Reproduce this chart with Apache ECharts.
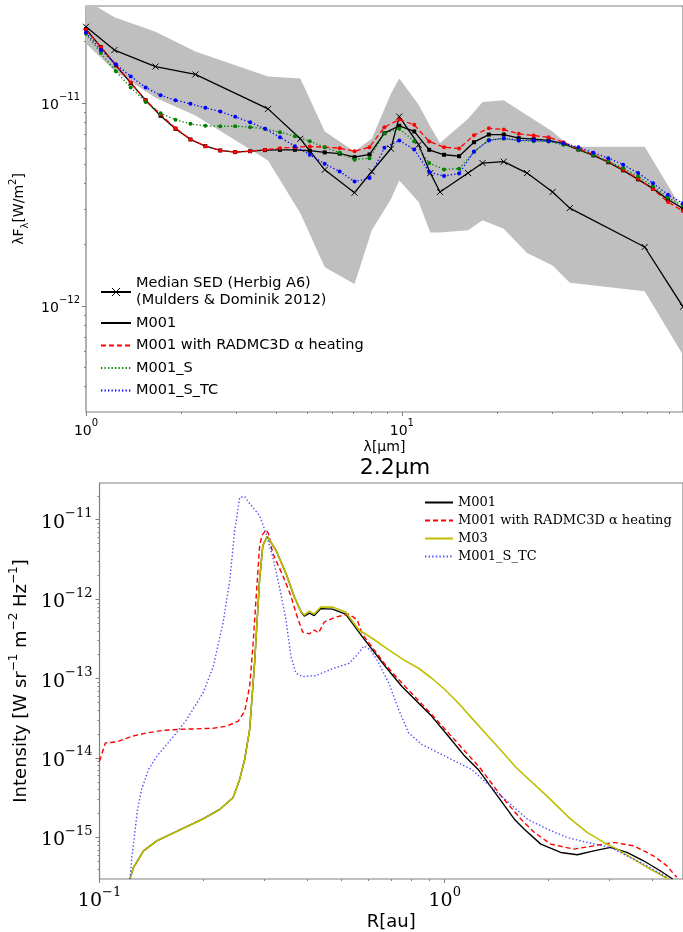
<!DOCTYPE html>
<html>
<head>
<meta charset="utf-8">
<script src="https://cdn.jsdelivr.net/npm/echarts@6/dist/echarts.min.js"></script>
<style>
  html, body { margin: 0; padding: 0; background: #fff; }
  #chart { width: 683px; height: 932px; }
</style>
</head>
<body>
<div id="chart"></div>
<script>
// ---- top panel: SED, wavelength grid of the models (micron)
const lamGrid = [1.000, 1.115, 1.243, 1.386, 1.545, 1.722, 1.920, 2.141, 2.387, 2.661, 2.967, 3.308, 3.688, 4.112,
  4.584, 5.111, 5.698, 6.353, 7.083, 7.897, 8.804, 9.816, 10.94, 12.20, 13.60, 15.17, 16.91, 18.85, 21.02, 23.43,
  26.13, 29.13, 32.47, 36.21, 40.37, 45.00, 50.18, 55.94, 62.37, 69.54, 77.53]
const sedM001 = [2.31e-11, 1.88e-11, 1.53e-11, 1.25e-11, 1.03e-11, 8.63e-12, 7.45e-12, 6.60e-12, 6.12e-12, 5.83e-12,
  5.72e-12, 5.78e-12, 5.85e-12, 5.87e-12, 5.87e-12, 5.81e-12, 5.70e-12, 5.62e-12, 5.40e-12, 5.57e-12, 7.09e-12,
  7.71e-12, 7.23e-12, 5.87e-12, 5.55e-12, 5.46e-12, 6.40e-12, 6.98e-12, 6.98e-12, 6.70e-12, 6.62e-12, 6.53e-12,
  6.29e-12, 5.89e-12, 5.51e-12, 5.10e-12, 4.65e-12, 4.20e-12, 3.78e-12, 3.34e-12, 3.02e-12]
const sedAlpha = [2.29e-11, 1.88e-11, 1.54e-11, 1.26e-11, 1.03e-11, 8.76e-12, 7.50e-12, 6.62e-12, 6.12e-12, 5.83e-12,
  5.72e-12, 5.78e-12, 5.87e-12, 5.98e-12, 6.05e-12, 6.10e-12, 6.05e-12, 5.98e-12, 5.78e-12, 6.05e-12, 7.59e-12,
  8.28e-12, 7.79e-12, 6.45e-12, 6.05e-12, 5.96e-12, 6.93e-12, 7.50e-12, 7.39e-12, 7.04e-12, 6.90e-12, 6.77e-12,
  6.40e-12, 5.94e-12, 5.57e-12, 5.14e-12, 4.68e-12, 4.23e-12, 3.75e-12, 3.25e-12, 2.93e-12]
const sedS = [2.19e-11, 1.76e-11, 1.43e-11, 1.19e-11, 1.01e-11, 8.89e-12, 8.25e-12, 7.88e-12, 7.71e-12, 7.67e-12,
  7.67e-12, 7.59e-12, 7.45e-12, 7.17e-12, 6.85e-12, 6.47e-12, 6.05e-12, 5.68e-12, 5.25e-12, 5.34e-12, 7.09e-12,
  7.45e-12, 6.47e-12, 5.05e-12, 4.70e-12, 4.74e-12, 5.72e-12, 6.58e-12, 6.65e-12, 6.53e-12, 6.47e-12, 6.45e-12,
  6.22e-12, 5.89e-12, 5.53e-12, 5.14e-12, 4.77e-12, 4.34e-12, 3.88e-12, 3.41e-12, 3.13e-12]
const sedSTC = [2.22e-11, 1.82e-11, 1.55e-11, 1.35e-11, 1.19e-11, 1.09e-11, 1.03e-11, 9.89e-12, 9.45e-12, 9.06e-12,
  8.53e-12, 8.03e-12, 7.45e-12, 6.77e-12, 6.12e-12, 5.55e-12, 5.01e-12, 4.59e-12, 4.10e-12, 4.26e-12, 6.01e-12,
  6.53e-12, 5.89e-12, 4.56e-12, 4.36e-12, 4.49e-12, 5.76e-12, 6.53e-12, 6.70e-12, 6.53e-12, 6.53e-12, 6.47e-12,
  6.33e-12, 6.05e-12, 5.68e-12, 5.34e-12, 4.96e-12, 4.51e-12, 4.02e-12, 3.53e-12, 3.20e-12]

// median Herbig SED and its spread
const lamMedian = [1.0, 1.23, 1.66, 2.22, 3.77, 4.77, 5.70, 7.08, 8.03, 9.23, 9.81, 11.3, 12.3, 13.2, 16.2, 18.0,
  21.0, 24.9, 30.0, 34.0, 58.7, 77.6]
const sedMedian = [2.37e-11, 1.82e-11, 1.51e-11, 1.38e-11, 9.34e-12, 6.65e-12, 4.68e-12, 3.61e-12, 4.59e-12,
  5.94e-12, 8.56e-12, 6.22e-12, 4.51e-12, 3.64e-12, 4.51e-12, 5.05e-12, 5.13e-12, 4.51e-12, 3.64e-12, 3.03e-12,
  1.95e-12, 9.89e-13]
const bandHigh = [3.2e-11, 2.64e-11, 2.24e-11, 1.79e-11, 1.35e-11, 1.32e-11, 7.23e-12, 5.76e-12, 6.65e-12, 1.11e-11,
  1.32e-11, 9.78e-12, 7.65e-12, 6.34e-12, 8.34e-12, 1.01e-11, 1.03e-11, 8.69e-12, 7.23e-12, 6.08e-12, 6.08e-12,
  2.95e-12]
const bandLow = [1.96e-11, 1.44e-11, 1.06e-11, 8.66e-12, 5.20e-12, 2.86e-12, 1.55e-12, 1.28e-12, 2.36e-12, 3.35e-12,
  4.15e-12, 3.25e-12, 2.30e-12, 2.30e-12, 2.36e-12, 2.64e-12, 2.40e-12, 1.82e-12, 1.58e-12, 1.30e-12, 1.18e-12,
  5.72e-13]

// ---- bottom panel: 2.2 micron intensity profiles, R in au
const rM001 = [0.1225, 0.1255, 0.1341, 0.1465, 0.1673, 0.1988, 0.2231, 0.2436, 0.2547, 0.2633, 0.2722, 0.2813,
  0.2908, 0.2972, 0.3062, 0.3245, 0.3469, 0.3667, 0.3833, 0.3920, 0.4052, 0.4189, 0.4375, 0.4728, 0.5164, 0.5768,
  0.6731, 0.7517, 0.8213, 0.9174, 1.0247, 1.144, 1.250, 1.411, 1.591, 1.700, 1.898, 2.168, 2.421, 2.704, 3.020,
  3.372, 3.766, 4.207, 4.573]
const iM001 = [3.0e-16, 4.21e-16, 6.79e-16, 9.07e-16, 1.19e-15, 1.70e-15, 2.26e-15, 3.17e-15, 5.38e-15, 9.59e-15,
  2.28e-14, 1.56e-13, 1.73e-12, 4.76e-12, 6.17e-12, 4.12e-12, 2.10e-12, 1.07e-12, 6.94e-13, 6.13e-13, 6.69e-13,
  6.22e-13, 7.61e-13, 7.50e-13, 6.49e-13, 3.37e-13, 1.42e-13, 7.96e-14, 5.42e-14, 3.35e-14, 1.88e-14, 1.05e-14,
  7.18e-15, 3.49e-15, 1.70e-15, 1.27e-15, 8.24e-16, 6.48e-16, 6.05e-16, 6.79e-16, 7.49e-16, 6.48e-16, 5.09e-16,
  3.81e-16, 3.0e-16]
const rAlpha = [0.1, 0.1040, 0.1124, 0.1241, 0.1371, 0.1531, 0.1711, 0.1910, 0.2134, 0.2330, 0.2518, 0.2633, 0.2722,
  0.2782, 0.2843, 0.2908, 0.2952, 0.3038, 0.3087, 0.3175, 0.3394, 0.3579, 0.3724, 0.3876, 0.4052, 0.4189, 0.4310,
  0.4476, 0.4824, 0.5282, 0.5580, 0.5768, 0.6731, 0.7517, 0.9174, 1.0247, 1.144, 1.264, 1.459, 1.663, 1.816, 2.029,
  2.367, 2.704, 3.088, 3.525, 4.025, 4.395, 4.698]
const iAlpha = [9.14e-15, 1.55e-14, 1.60e-14, 1.88e-14, 2.07e-14, 2.23e-14, 2.30e-14, 2.33e-14, 2.37e-14, 2.51e-14,
  2.90e-14, 3.87e-14, 7.96e-14, 2.53e-13, 1.07e-12, 4.53e-12, 6.35e-12, 7.49e-12, 6.67e-12, 3.78e-12, 2.00e-12,
  1.12e-12, 6.31e-13, 3.86e-13, 3.65e-13, 4.09e-13, 3.75e-13, 5.15e-13, 5.95e-13, 6.49e-13, 5.46e-13, 3.65e-13,
  1.49e-13, 8.78e-14, 3.52e-14, 2.07e-14, 1.22e-14, 7.55e-15, 3.30e-15, 1.70e-15, 1.16e-15, 8.24e-16, 7.13e-16,
  7.85e-16, 8.66e-16, 7.85e-16, 5.88e-16, 4.41e-16, 3.15e-16]
const rM03 = [0.1225, 0.1255, 0.1341, 0.1465, 0.1673, 0.1988, 0.2231, 0.2436, 0.2547, 0.2633, 0.2722, 0.2813, 0.2908,
  0.2972, 0.3062, 0.3245, 0.3469, 0.3667, 0.3833, 0.3920, 0.4052, 0.4189, 0.4375, 0.4728, 0.5164, 0.5643, 0.6163,
  0.6886, 0.7606, 0.8400, 0.9174, 1.002, 1.095, 1.196, 1.336, 1.492, 1.612, 1.967, 2.316, 2.586, 2.889, 3.155,
  3.525, 3.937, 4.446]
const iM03 = [3.0e-16, 4.21e-16, 6.79e-16, 9.07e-16, 1.19e-15, 1.70e-15, 2.26e-15, 3.17e-15, 5.38e-15, 9.59e-15,
  2.28e-14, 1.56e-13, 1.73e-12, 4.76e-12, 6.17e-12, 4.12e-12, 2.10e-12, 1.07e-12, 6.94e-13, 6.31e-13, 7.08e-13,
  6.49e-13, 7.95e-13, 7.95e-13, 6.88e-13, 4.09e-13, 3.22e-13, 2.30e-13, 1.72e-13, 1.35e-13, 1.01e-13, 7.24e-14,
  4.93e-14, 3.20e-14, 1.88e-14, 1.11e-14, 7.55e-15, 3.39e-15, 1.70e-15, 1.16e-15, 8.66e-16, 7.13e-16, 5.34e-16,
  4.00e-16, 3.0e-16]
const rSTC = [0.1225, 0.1241, 0.1264, 0.1289, 0.1324, 0.1387, 0.1465, 0.1636, 0.1787, 0.1997, 0.2134, 0.2280, 0.2384,
  0.2464, 0.2547, 0.2633, 0.2722, 0.2908, 0.3038, 0.3175, 0.3320, 0.3469, 0.3586, 0.3707, 0.3876, 0.4233, 0.4728,
  0.5282, 0.5580, 0.5833, 0.6095, 0.6443, 0.6886, 0.7358, 0.7863, 0.8587, 0.9804, 1.119, 1.196, 1.440, 1.737, 1.984,
  2.265, 2.586, 3.020, 3.372, 3.849, 4.395]
const iSTC = [3.0e-16, 5.66e-16, 1.10e-15, 2.26e-15, 4.03e-15, 7.18e-15, 1.05e-14, 1.86e-14, 3.04e-14, 6.64e-14,
  1.41e-13, 5.01e-13, 1.73e-12, 7.34e-12, 1.90e-11, 1.96e-11, 1.60e-11, 1.13e-11, 6.67e-12, 3.40e-12, 1.43e-12,
  5.46e-13, 1.89e-13, 1.17e-13, 1.06e-13, 1.09e-13, 1.33e-13, 1.56e-13, 1.99e-13, 2.58e-13, 2.30e-13, 1.56e-13,
  8.78e-14, 4.06e-14, 2.07e-14, 1.48e-14, 1.11e-14, 8.30e-15, 7.18e-15, 3.49e-15, 1.70e-15, 1.27e-15, 1.00e-15,
  8.66e-16, 7.49e-16, 5.88e-16, 4.41e-16, 3.15e-16]

// tick values
const topXMajor = [1, 10]
const topXMinor = [2, 3, 4, 5, 6, 7, 8, 9, 20, 30, 40, 50, 60, 70]
const topYMajor = [1e-12, 1e-11]
const topYMinor = [4e-13, 5e-13, 6e-13, 7e-13, 8e-13, 9e-13, 2e-12, 3e-12, 4e-12, 5e-12, 6e-12, 7e-12, 8e-12, 9e-12, 2e-11]
const botXMajor = [0.1, 1]
const botXMinor = [0.2, 0.3, 0.4, 0.5, 0.6, 0.7, 0.8, 0.9, 2, 3, 4]
const botYMajor = [1e-15, 1e-14, 1e-13, 1e-12, 1e-11]
const botYMinor = [4e-16, 5e-16, 6e-16, 7e-16, 8e-16, 9e-16,
  2e-15, 3e-15, 4e-15, 5e-15, 6e-15, 7e-15, 8e-15, 9e-15,
  2e-14, 3e-14, 4e-14, 5e-14, 6e-14, 7e-14, 8e-14, 9e-14,
  2e-13, 3e-13, 4e-13, 5e-13, 6e-13, 7e-13, 8e-13, 9e-13,
  2e-12, 3e-12, 4e-12, 5e-12, 6e-12, 7e-12, 8e-12, 9e-12, 2e-11]

const SANS = 'DejaVu Sans'
const SERIF = 'DejaVu Serif'
const AXIS = '#808080'

const zip = (xs, ys) => xs.map((x, i) => [x, ys[i]])

function powLabel(v) {
  const e = Math.round(Math.log10(v))
  return '{b|10}{s|' + (e < 0 ? '\u2212' + (-e) : String(e)) + '}'
}

function powRich(font, size, supSize) {
  return {
    b: { fontFamily: font, fontSize: size, color: '#000', lineHeight: size + 6, verticalAlign: 'bottom' },
    s: { fontFamily: font, fontSize: supSize, color: '#000', lineHeight: supSize + 2, verticalAlign: 'top' }
  }
}

// a log axis with its major ticks/labels, plus an overlaid axis that only draws minor ticks
function logAxes(gridIndex, pos, min, max, major, minor, label, name) {
  const main = Object.assign({
    type: 'log', logBase: 10, gridIndex: gridIndex, position: pos, min: min, max: max,
    axisLine: { show: false }, splitLine: { show: false },
    axisTick: { show: true, customValues: major, length: 4, lineStyle: { color: AXIS, width: 1 } },
    axisLabel: { customValues: major, formatter: powLabel, margin: label.margin, rich: label.rich }
  }, name)
  const minorAxis = {
    type: 'log', logBase: 10, gridIndex: gridIndex, position: pos, min: min, max: max,
    axisLine: { show: false }, splitLine: { show: false }, axisLabel: { show: false },
    axisTick: { show: true, customValues: minor, length: 2, lineStyle: { color: AXIS, width: 1 } }
  }
  return [main, minorAxis]
}

const topLabel = { margin: 6, rich: powRich(SANS, 14, 10) }
const botLabel = { margin: 7, rich: powRich(SERIF, 19, 13) }

const topX = logAxes(0, 'bottom', 1, 77.6, topXMajor, topXMinor, topLabel, {
  name: 'λ[μm]', nameLocation: 'middle', nameGap: 28,
  nameTextStyle: { fontFamily: SANS, fontSize: 14, color: '#000' }
})
const topY = logAxes(0, 'left', 3e-13, 3e-11, topYMajor, topYMinor, topLabel, {
  name: '{n|λF}{sub|λ}{n|[W/m}{sup|2}{n|]}', nameLocation: 'middle', nameGap: 56,
  nameTextStyle: {
    rich: {
      n: { fontFamily: SANS, fontSize: 14, color: '#000', lineHeight: 22, verticalAlign: 'middle' },
      sub: { fontFamily: SANS, fontSize: 10, color: '#000', lineHeight: 10, verticalAlign: 'bottom' },
      sup: { fontFamily: SANS, fontSize: 10, color: '#000', lineHeight: 10, verticalAlign: 'top' }
    }
  }
})
const botX = logAxes(1, 'bottom', 0.1, 4.9, botXMajor, botXMinor, botLabel, {
  name: 'R[au]', nameLocation: 'middle', nameGap: 34,
  nameTextStyle: { fontFamily: SANS, fontSize: 18, color: '#000' }
})
const botY = logAxes(1, 'left', 3e-16, 2.9e-11, botYMajor, botYMinor, botLabel, {
  name: '{n|Intensity [W sr}{sup|\u22121}{n| m}{sup|\u22122}{n| Hz}{sup|\u22121}{n|]}',
  nameLocation: 'middle', nameGap: 64,
  nameTextStyle: {
    rich: {
      n: { fontFamily: SANS, fontSize: 18, color: '#000', lineHeight: 26, verticalAlign: 'middle' },
      sup: { fontFamily: SANS, fontSize: 12, color: '#000', lineHeight: 12, verticalAlign: 'top' }
    }
  }
})

const MEDIAN = 'Median SED (Herbig A6)\n(Mulders & Dominik 2012)'
const ALPHA = 'M001 with RADMC3D α heating'
const crossSymbol = 'path://M0,0L10,10M10,0L0,10'
const noMarker = { itemStyle: { opacity: 0 } }

const chart = echarts.init(document.getElementById('chart'))

const option = {
  animation: false,
  backgroundColor: '#fff',
  title: {
    text: '2.2μm', left: 390, top: 452, textAlign: 'center',
    textStyle: { fontFamily: SANS, fontSize: 22, fontWeight: 'normal', color: '#000' }
  },
  grid: [
    { left: 83, top: 6, width: 600, height: 406, show: true, borderColor: AXIS, borderWidth: 1.2 },
    { left: 96, top: 483, width: 587, height: 397, show: true, borderColor: AXIS, borderWidth: 1.2 }
  ],
  xAxis: [topX[0], topX[1], botX[0], botX[1]],
  yAxis: [topY[0], topY[1], botY[0], botY[1]],
  legend: [
    {
      orient: 'vertical', left: 95, top: 270, itemWidth: 30, itemHeight: 10, itemGap: 5.5,
      textStyle: { fontFamily: SANS, fontSize: 14.5, lineHeight: 17, color: '#000' },
      data: [
        { name: MEDIAN, itemStyle: { borderWidth: 1 } },
        Object.assign({ name: 'M001' }, noMarker),
        Object.assign({ name: ALPHA }, noMarker),
        Object.assign({ name: 'M001_S' }, noMarker),
        Object.assign({ name: 'M001_S_TC' }, noMarker)
      ]
    },
    {
      orient: 'vertical', left: 419, top: 491, itemWidth: 28, itemHeight: 10, itemGap: 5,
      textStyle: { fontFamily: SERIF, fontSize: 13, color: '#000' },
      formatter: name => name.replace('b:', ''),
      data: [
        Object.assign({ name: 'b:M001' }, noMarker),
        Object.assign({ name: 'b:' + ALPHA }, noMarker),
        Object.assign({ name: 'b:M03' }, noMarker),
        Object.assign({ name: 'b:M001_S_TC' }, noMarker)
      ]
    }
  ],
  series: [
    // grey spread of the median SED: one polygon through the upper and lower bounds
    {
      name: 'spread', type: 'custom', xAxisIndex: 0, yAxisIndex: 0, silent: true, clip: true, z: 1,
      data: lamMedian.map((x, i) => [x, bandLow[i], bandHigh[i]]),
      encode: { x: 0, y: [1, 2] },
      renderItem: function (params, api) {
        if (params.dataIndex !== 0) return null
        const upper = lamMedian.map((x, i) => api.coord([x, bandHigh[i]]))
        const lower = lamMedian.map((x, i) => api.coord([x, bandLow[i]])).reverse()
        const cs = params.coordSys
        return {
          type: 'polygon',
          shape: { points: upper.concat(lower) },
          style: { fill: '#bfbfbf' },
          clipPath: { type: 'rect', shape: { x: cs.x, y: cs.y, width: cs.width, height: cs.height } }
        }
      }
    },
    {
      name: MEDIAN, type: 'line', xAxisIndex: 0, yAxisIndex: 0, symbol: crossSymbol, symbolSize: 6,
      itemStyle: { color: 'rgba(0,0,0,0)', borderColor: '#000', borderWidth: 1 },
      lineStyle: { color: '#000', width: 1.3 }, data: zip(lamMedian, sedMedian), z: 3
    },
    {
      name: 'M001', type: 'line', xAxisIndex: 0, yAxisIndex: 0, symbol: 'rect', symbolSize: 4,
      itemStyle: { color: '#000' }, lineStyle: { color: '#000', width: 1.3 }, data: zip(lamGrid, sedM001), z: 3
    },
    {
      name: ALPHA, type: 'line', xAxisIndex: 0, yAxisIndex: 0, symbol: 'circle', symbolSize: 4,
      itemStyle: { color: '#ff0000' }, lineStyle: { color: '#ff0000', width: 1.3, type: [5, 3] },
      data: zip(lamGrid, sedAlpha), z: 3
    },
    {
      name: 'M001_S', type: 'line', xAxisIndex: 0, yAxisIndex: 0, symbol: 'circle', symbolSize: 4,
      itemStyle: { color: '#008000' }, lineStyle: { color: '#008000', width: 1.3, type: [1.3, 2.2] },
      data: zip(lamGrid, sedS), z: 3
    },
    {
      name: 'M001_S_TC', type: 'line', xAxisIndex: 0, yAxisIndex: 0, symbol: 'circle', symbolSize: 4,
      itemStyle: { color: '#0000ff' }, lineStyle: { color: '#0000ff', width: 1.3, type: [1.3, 2.2] },
      data: zip(lamGrid, sedSTC), z: 3
    },
    // bottom panel profiles
    {
      name: 'b:M001', type: 'line', xAxisIndex: 2, yAxisIndex: 2, symbol: 'none',
      itemStyle: { color: '#000' }, lineStyle: { color: '#000', width: 1.4 }, data: zip(rM001, iM001), z: 3
    },
    {
      name: 'b:' + ALPHA, type: 'line', xAxisIndex: 2, yAxisIndex: 2, symbol: 'none',
      itemStyle: { color: '#ff0000' }, lineStyle: { color: '#ff0000', width: 1.4, type: [5, 3] },
      data: zip(rAlpha, iAlpha), z: 3
    },
    {
      name: 'b:M03', type: 'line', xAxisIndex: 2, yAxisIndex: 2, symbol: 'none',
      itemStyle: { color: '#bfbf00' }, lineStyle: { color: '#bfbf00', width: 1.6 }, data: zip(rM03, iM03), z: 3
    },
    {
      name: 'b:M001_S_TC', type: 'line', xAxisIndex: 2, yAxisIndex: 2, symbol: 'none',
      itemStyle: { color: '#4d4dff' }, lineStyle: { color: '#4d4dff', width: 1.4, type: [1.4, 2.2] },
      data: zip(rSTC, iSTC), z: 3
    }
  ]
}

chart.setOption(option)
</script>
</body>
</html>
